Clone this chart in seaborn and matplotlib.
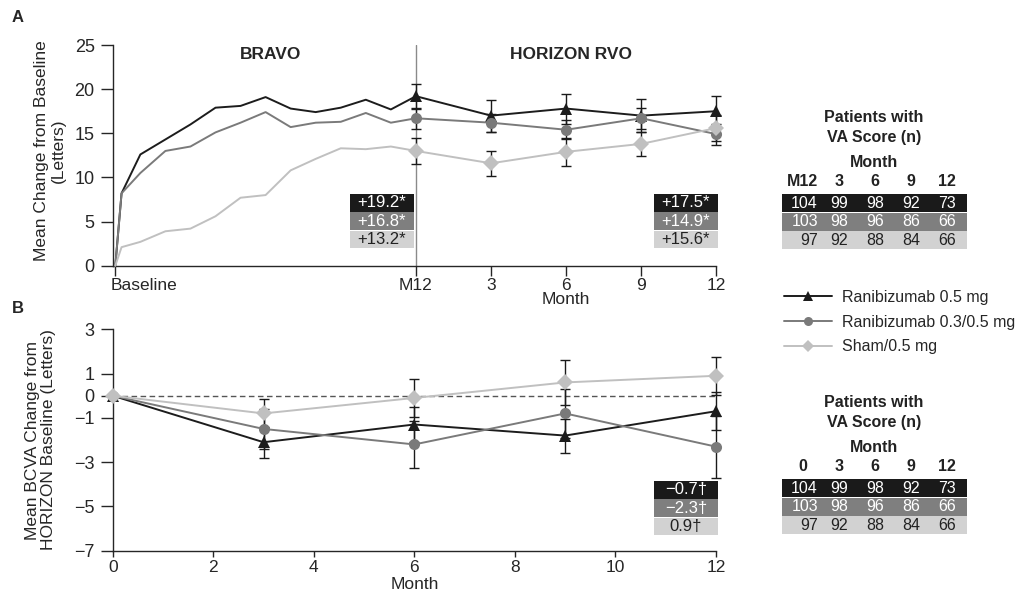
"""BRAVO / HORIZON RVO: mean BCVA change over time, panels A and B."""

import matplotlib
matplotlib.use("Agg")
import matplotlib.pyplot as plt
import matplotlib.transforms as mtransforms
import pandas as pd
import seaborn as sns
from matplotlib.lines import Line2D
from matplotlib.patches import Rectangle

# ---- data -----------------------------------------------------------------
series = ["Ranibizumab 0.5 mg", "Ranibizumab 0.3/0.5 mg", "Sham/0.5 mg"]

bravo_months = [0, 0.25, 1, 2, 3, 4, 5, 6, 7, 8, 9, 10, 11, 12]
horizon_months = [3, 6, 9, 12]

bravo_rbz05 = [0, 8.2, 12.6, 14.3, 16.0, 17.9, 18.1, 19.1, 17.8, 17.4, 17.9, 18.8, 17.7, 19.2]
bravo_rbz03 = [0, 8.2, 10.5, 13.0, 13.5, 15.1, 16.2, 17.4, 15.7, 16.2, 16.3, 17.3, 16.2, 16.7]
bravo_sham = [0, 2.1, 2.7, 3.9, 4.2, 5.6, 7.7, 8.0, 10.8, 12.1, 13.3, 13.2, 13.5, 13.0]

horizon_rbz05 = [17.0, 17.8, 17.0, 17.5]
horizon_rbz03 = [16.2, 15.4, 16.7, 14.9]
horizon_sham = [11.6, 12.9, 13.8, 15.6]

# error bars at M12 and HORIZON months 3, 6, 9, 12
err_a_rbz05 = [1.4, 1.8, 1.7, 1.9, 1.75]
err_a_rbz03 = [1.2, 1.0, 1.1, 1.2, 1.2]
err_a_sham = [1.5, 1.4, 1.55, 1.4, 1.5]

months_b = [0, 3, 6, 9, 12]
b_rbz05 = [0, -2.1, -1.3, -1.8, -0.7]
b_rbz03 = [0, -1.5, -2.2, -0.8, -2.3]
b_sham = [0, -0.8, -0.1, 0.6, 0.9]
err_b_rbz05 = [0.7, 0.8, 0.77, 0.85]
err_b_rbz03 = [0.9, 1.05, 1.1, 1.4]
err_b_sham = [0.65, 0.85, 1.0, 0.85]

a_ticklabels = ["Baseline", "M12", "3", "6", "9", "12"]
b_yticks = [3, 1, 0, -1, -3, -5, -7]

box_bravo = ["+19.2*", "+16.8*", "+13.2*"]
box_horizon = ["+17.5*", "+14.9*", "+15.6*"]
box_b = ["\u22120.7\u2020", "\u22122.3\u2020", "0.9\u2020"]

table_cols_a = ["M12", "3", "6", "9", "12"]
table_cols_b = ["0", "3", "6", "9", "12"]
n_rbz05 = [104, 99, 98, 92, 73]
n_rbz03 = [103, 98, 96, 86, 66]
n_sham = [97, 92, 88, 84, 66]

# ---- style ----------------------------------------------------------------
line_colors = ["#1c1c1c", "#7a7a7a", "#c0c0c0"]
fill_colors = ["#1a1a1a", "#7f7f7f", "#d2d2d2"]
fill_text = ["white", "white", "#222222"]
marker_map = dict(zip(series, ["^", "o", "D"]))
palette = dict(zip(series, line_colors))

sns.set_theme(style="ticks", rc={"axes.linewidth": 1.0, "xtick.major.width": 1.0,
                                 "ytick.major.width": 1.0})
plt.rcParams["font.family"] = ["Liberation Sans", "DejaVu Sans"]

W, H = 1020, 596


def fx(x):
    return x / W


def fy(y):
    return 1 - y / H


fig = plt.figure(figsize=(W / 100, H / 100), dpi=100)

# ---- panel A --------------------------------------------------------------
pos_a = bravo_months + [12 + m for m in horizon_months]
dfa = pd.DataFrame({
    "pos": pos_a * 3,
    "value": bravo_rbz05 + horizon_rbz05 + bravo_rbz03 + horizon_rbz03 + bravo_sham + horizon_sham,
    "group": [s for s in series for _ in pos_a],
})
err_a = {series[0]: err_a_rbz05, series[1]: err_a_rbz03, series[2]: err_a_sham}

ppm_a = 25.05
axA = fig.add_axes([fx(115.3 - 0.1 * ppm_a), fy(265.7), 24.5 * ppm_a / W, 220.7 / H])
axA.axvline(12, color="#8a8a8a", lw=1.0, zorder=1)
sns.lineplot(data=dfa, x="pos", y="value", hue="group", style="group", palette=palette,
             markers=marker_map, dashes=False, markevery=list(range(len(bravo_months) - 1, len(pos_a))),
             markersize=8, markeredgewidth=0, lw=1.4, legend=False, errorbar=None,
             clip_on=False, zorder=3, ax=axA)
for name in series:
    sub = dfa[dfa["group"] == name].iloc[len(bravo_months) - 1:]
    axA.errorbar(sub["pos"], sub["value"], yerr=err_a[name], fmt="none", ecolor="#1a1a1a",
                 elinewidth=1.0, capsize=3.5, capthick=1.0, zorder=2, clip_on=False)

axA.set_xlim(-0.1, 24.4)
axA.set_ylim(0, 25)
axA.set_yticks([0, 5, 10, 15, 20, 25])
axA.set_xticks([0, 12, 15, 18, 21, 24], a_ticklabels)
axA.spines[["top", "right"]].set_visible(False)
axA.spines["bottom"].set_bounds(-0.1, 24)
axA.tick_params(axis="y", length=9, pad=4, labelsize=13)
axA.tick_params(axis="x", length=7, pad=1.5, labelsize=12.5)
base_lab = axA.get_xticklabels()[0]
base_lab.set_horizontalalignment("left")
base_lab.set_transform(base_lab.get_transform()
                       + mtransforms.ScaledTranslation(-0.05, 0, fig.dpi_scale_trans))
axA.set_xlabel("Month", fontsize=12.5)
axA.xaxis.set_label_coords(18.1 / 24.5, -0.119)
axA.set_ylabel("Mean Change from Baseline\n(Letters)", fontsize=12.5, linespacing=1.1)
axA.yaxis.set_label_coords(-0.077, 0.52)
axA.text(6.2, 23.9, "BRAVO", ha="center", va="center", fontsize=12.5, fontweight="bold")
axA.text(18.2, 23.9, "HORIZON RVO", ha="center", va="center", fontsize=12.5, fontweight="bold")

# ---- panel B --------------------------------------------------------------
dfb = pd.DataFrame({
    "month": months_b * 3,
    "value": b_rbz05 + b_rbz03 + b_sham,
    "group": [s for s in series for _ in months_b],
})
err_b = {series[0]: err_b_rbz05, series[1]: err_b_rbz03, series[2]: err_b_sham}

ppm_b = 50.27
axB = fig.add_axes([fx(112.7), fy(550.7), 12.3 * ppm_b / W, 221.4 / H])
axB.hlines(0, min(months_b), max(months_b), colors="#555555", linestyles=(0, (4, 2.5)), lw=1.0, zorder=1)
sns.lineplot(data=dfb, x="month", y="value", hue="group", style="group", palette=palette,
             markers=marker_map, dashes=False, markersize=8, markeredgewidth=0, lw=1.4,
             legend=False, errorbar=None, clip_on=False, zorder=3, ax=axB)
for name in series:
    sub = dfb[dfb["group"] == name].iloc[1:]
    axB.errorbar(sub["month"], sub["value"], yerr=err_b[name], fmt="none", ecolor="#1a1a1a",
                 elinewidth=1.0, capsize=3.5, capthick=1.0, zorder=2, clip_on=False)

axB.set_xlim(0, 12.3)
axB.set_ylim(-7, 3)
axB.set_yticks(b_yticks)
axB.set_xticks([0, 2, 4, 6, 8, 10, 12])
axB.spines[["top", "right"]].set_visible(False)
axB.spines["bottom"].set_bounds(0, 12)
axB.tick_params(axis="y", length=9, pad=4, labelsize=13)
axB.tick_params(axis="x", length=4.5, pad=2.5, labelsize=12.5)
axB.set_xlabel("Month", fontsize=12.5)
axB.xaxis.set_label_coords(6 / 12.3, -0.119)
axB.set_ylabel("Mean BCVA Change from\nHORIZON Baseline (Letters)", fontsize=12.5, linespacing=1.1)
axB.yaxis.set_label_coords(-0.091, 0.5)

fig.text(fx(12), fy(18), "A", fontsize=12, fontweight="bold", va="center")
fig.text(fx(12), fy(309), "B", fontsize=12, fontweight="bold", va="center")


# ---- value boxes ----------------------------------------------------------
def value_box(left, top, labels):
    for i, lab in enumerate(labels):
        y0 = top + i * 18.4
        fig.add_artist(Rectangle((fx(left), fy(y0 + 17.6)), 64 / W, 17.6 / H,
                                 transform=fig.transFigure, facecolor=fill_colors[i],
                                 edgecolor="none"))
        fig.text(fx(left + 32), fy(y0 + 8.8), lab, ha="center", va="center",
                 color=fill_text[i], fontsize=12)


value_box(350, 194, box_bravo)
value_box(654, 194, box_horizon)
value_box(654, 481, box_b)

# ---- patient count tables ---------------------------------------------------
col_centers = [803, 839, 875, 911, 947]
col_rights = [818, 848, 884, 920, 956]


def count_table(top, cols, rows):
    bold = dict(ha="center", va="center", fontsize=11.5, fontweight="bold", color="#222222")
    fig.text(fx(874), fy(top), "Patients with", **bold)
    fig.text(fx(874), fy(top + 19.6), "VA Score (n)", **bold)
    fig.text(fx(874), fy(top + 44.6), "Month", **bold)
    for c, lab in zip(col_centers, cols):
        fig.text(fx(c), fy(top + 64), lab, **bold)
    for i, row in enumerate(rows):
        y0 = top + 76.6 + i * 18.5
        fig.add_artist(Rectangle((fx(782), fy(y0 + 17.8)), 185 / W, 17.8 / H,
                                 transform=fig.transFigure, facecolor=fill_colors[i],
                                 edgecolor="none"))
        for r, n in zip(col_rights, row):
            fig.text(fx(r), fy(y0 + 9), str(n), ha="right", va="center",
                     fontsize=11.5, color=fill_text[i])


count_table(117.7, table_cols_a, [n_rbz05, n_rbz03, n_sham])
count_table(402.7, table_cols_b, [n_rbz05, n_rbz03, n_sham])

# ---- legend -----------------------------------------------------------------
handles = [Line2D([], [], color=c, marker=marker_map[s], markersize=6.5, markeredgewidth=0, lw=1.4)
           for s, c in zip(series, line_colors)]
fig.legend(handles, series, loc="upper left", bbox_to_anchor=(fx(784), fy(290)),
           frameon=False, fontsize=11.5, handlelength=3.0, handletextpad=0.65,
           labelspacing=0.6, borderpad=0, borderaxespad=0)

fig.savefig("out.png", dpi=100)
